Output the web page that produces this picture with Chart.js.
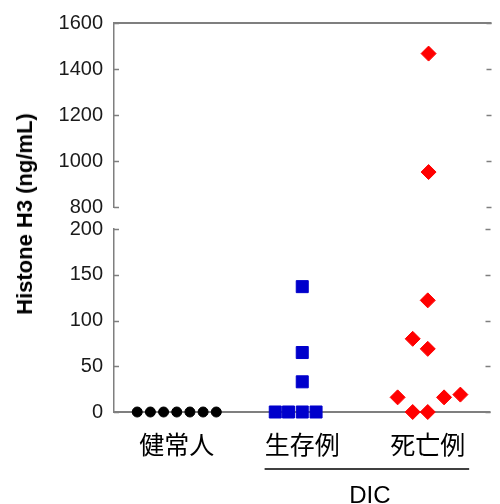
<!DOCTYPE html>
<html><head><meta charset="utf-8">
<script src="https://cdn.jsdelivr.net/npm/chart.js@4.4.1/dist/chart.umd.min.js"></script>
<style>
html,body{margin:0;padding:0;background:#fff;}
#wrap{position:relative;width:500px;height:504px;overflow:hidden;background:#fff;}
#topc{position:absolute;left:0;top:0;}
#botc{position:absolute;left:0;top:205px;}
#ytitle{position:absolute;left:25px;top:214px;transform:translate(-50%,-50%) rotate(-90deg);font:bold 22px "Liberation Sans",Arial,sans-serif;white-space:nowrap;color:#000;}
</style></head><body>
<div id="wrap">
<canvas id="topc" width="500" height="230"></canvas>
<canvas id="botc" width="500" height="299"></canvas>
<div id="ytitle">Histone H3 (ng/mL)</div>
</div>
<script>
const categories = ['健常人', '生存例', '死亡例'];
const groupLabel = 'DIC';
const healthyValues  = [0, 0, 0, 0, 0, 0, 0];
const healthyOffsets = [-0.315, -0.21, -0.105, 0, 0.105, 0.21, 0.315];
const survivorValues  = [0, 0, 0, 0, 33, 65, 137];
const survivorOffsets = [-0.215, -0.11, 0, 0.11, 0, 0, 0];
const deathValues  = [1467, 952, 122, 80, 69, 16, 0, 0, 16, 19];
const deathOffsets = [0, 0, 0, -0.12, 0, -0.24, -0.12, 0, 0.13, 0.26];
const upperTicks = [800, 1000, 1200, 1400, 1600];
const lowerTicks = [0, 50, 100, 150, 200];

const AXIS = '#7f7f7f';
const TICKFONT = {family: '"Liberation Sans", Arial, sans-serif', size: 20};

function pts(values, offsets, catIdx, lo, hi) {
  const out = [];
  values.forEach((v, i) => { if (v >= lo && v <= hi) out.push({x: catIdx + offsets[i], y: v}); });
  return out;
}
function datasets(lo, hi) {
  return [
    {data: pts(healthyValues, healthyOffsets, 0, lo, hi), pointStyle: 'circle', pointRadius: 5,
     backgroundColor: '#000', borderColor: '#000', borderWidth: 1},
    {data: pts(survivorValues, survivorOffsets, 1, lo, hi), pointStyle: 'rect', pointRadius: 8.5,
     backgroundColor: '#0000cc', borderColor: '#0000cc', borderWidth: 1},
    {data: pts(deathValues, deathOffsets, 2, lo, hi), pointStyle: 'rectRot', pointRadius: 7.5,
     backgroundColor: '#ff0000', borderColor: '#ff0000', borderWidth: 1}
  ].map(d => Object.assign(d, {showLine: false, clip: false, pointHoverRadius: d.pointRadius}));
}

const deco = {
  id: 'deco',
  beforeDatasetsDraw(chart, args, opts) {
    const ctx = chart.ctx, y = chart.scales.y, x = chart.scales.x, a = chart.chartArea;
    ctx.save();
    ctx.strokeStyle = AXIS; ctx.lineWidth = 1.5;
    y.ticks.forEach(t => {
      const py = Math.round(y.getPixelForValue(t.value)) + 0.5;
      ctx.beginPath(); ctx.moveTo(a.left, py); ctx.lineTo(a.left + 5, py); ctx.stroke();
      ctx.beginPath(); ctx.moveTo(a.right - 5, py); ctx.lineTo(a.right, py); ctx.stroke();
    });
    if (opts.topLine) {
      ctx.lineWidth = 2;
      ctx.beginPath(); ctx.moveTo(a.left, a.top); ctx.lineTo(a.right, a.top); ctx.stroke();
    }
    if (opts.bottom) {
      ctx.lineWidth = 2;
      const py = y.getPixelForValue(0);
      ctx.beginPath(); ctx.moveTo(a.left, py); ctx.lineTo(a.right, py); ctx.stroke();
      ctx.fillStyle = '#000';
      ctx.textAlign = 'center'; ctx.textBaseline = 'middle';
      ctx.font = '25px "Noto Sans CJK JP", sans-serif';
      categories.forEach((c, i) => ctx.fillText(c, x.getPixelForValue(i), a.bottom + 32));
      ctx.strokeStyle = '#000'; ctx.lineWidth = 1.5;
      const lx0 = x.getPixelForValue(0.7), lx1 = x.getPixelForValue(2.33);
      ctx.beginPath(); ctx.moveTo(lx0, a.bottom + 57); ctx.lineTo(lx1, a.bottom + 57); ctx.stroke();
      ctx.font = '24px "Liberation Sans", Arial, sans-serif';
      ctx.fillText(groupLabel, (lx0 + lx1) / 2 + 3, a.bottom + 84);
    }
    ctx.restore();
  }
};

function makeChart(id, lo, hi, ticks, padding, decoOpts) {
  return new Chart(document.getElementById(id), {
    type: 'scatter',
    data: {datasets: datasets(lo, hi)},
    plugins: [deco],
    options: {
      responsive: false, animation: false,
      layout: {padding: padding},
      plugins: {legend: {display: false}, tooltip: {enabled: false}, deco: decoOpts},
      events: [],
      scales: {
        x: {type: 'linear', min: -0.5, max: 2.5, display: false},
        y: {
          min: lo, max: hi,
          afterBuildTicks: s => { s.ticks = ticks.map(v => ({value: v})); },
          afterFit: s => { s.width = 114; },
          grid: {display: false, drawTicks: false},
          border: {display: true, color: AXIS, width: 1.5},
          ticks: {font: TICKFONT, color: '#1a1a1a', padding: 11, callback: v => String(v)}
        }
      }
    }
  });
}

makeChart('topc', 800, 1600, upperTicks, {top: 22, bottom: 4, left: 0, right: 0}, {topLine: true});
makeChart('botc', 0, 200, lowerTicks, {top: 24, bottom: 92, left: 0, right: 0}, {bottom: true});
</script>
</body></html>
